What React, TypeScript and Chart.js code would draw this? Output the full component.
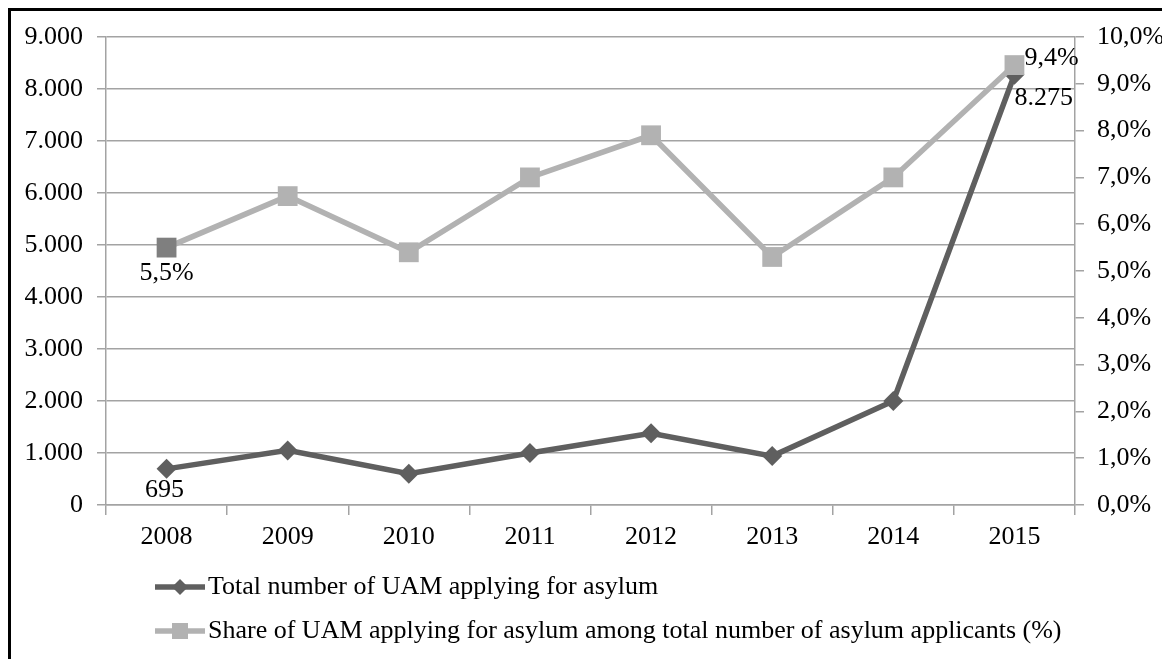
import React, { useEffect, useRef } from "react";
import { Chart, registerables } from "chart.js";

Chart.register(...registerables);

// ---- Data ----
const years = ["2008", "2009", "2010", "2011", "2012", "2013", "2014", "2015"];
const totalUAM = [695, 1050, 600, 1000, 1380, 940, 2000, 8275];
const shareUAM = [5.5, 6.6, 5.4, 7.0, 7.9, 5.3, 7.0, 9.4];
const totalLabelIdx = [0, 7];
const shareLabelIdx = [0, 7];
const seriesNames = [
  "Total number of UAM applying for asylum",
  "Share of UAM applying for asylum among total number of asylum applicants (%)",
];
const leftMax = 9000;
const leftStep = 1000;
const rightMax = 10;
const rightStep = 1;

const FONT = "'Liberation Serif', 'Times New Roman', serif";
const FS = 26;
const DARK = "#5f5f5f";
const LIGHT = "#b2b2b2";
const LIGHT_FIRST = "#7f7f7f";
const GRID = "#a3a3a3";

const fmtThousands = (v: number) =>
  String(Math.round(v)).replace(/\B(?=(\d{3})+(?!\d))/g, ".");
const fmtPct = (v: number) => v.toFixed(1).replace(".", ",") + "%";

const labelPos: Record<string, Record<number, { dx: number; dy: number; align: CanvasTextAlign }>> = {
  total: { 0: { dx: -2, dy: 21, align: "center" }, 7: { dx: 0, dy: 23, align: "left" } },
  share: { 0: { dx: 0, dy: 26, align: "center" }, 7: { dx: 10, dy: -7, align: "left" } },
};

const dataLabelPlugin = {
  id: "dataLabels",
  afterDatasetsDraw(chart: any) {
    const ctx = chart.ctx;
    ctx.save();
    ctx.font = `${FS}px ${FONT}`;
    ctx.fillStyle = "#000";
    ctx.textBaseline = "middle";
    chart.data.datasets.forEach((ds: any, di: number) => {
      const meta = chart.getDatasetMeta(di);
      const key = ds.key as string;
      const idxs = key === "total" ? totalLabelIdx : shareLabelIdx;
      idxs.forEach((i) => {
        const pt = meta.data[i];
        const p = labelPos[key][i];
        const v = ds.data[i];
        const txt = key === "total" ? fmtThousands(v) : fmtPct(v);
        ctx.textAlign = p.align;
        ctx.fillText(txt, pt.x + p.dx, pt.y + p.dy);
      });
    });
    ctx.restore();
  },
};

const legendPlugin = {
  id: "customLegend",
  afterDraw(chart: any) {
    const ctx = chart.ctx;
    ctx.save();
    const x0 = 144;
    const x1 = 194;
    const rows = [576, 620];
    const order = ["total", "share"];
    order.forEach((key, r) => {
      const ds = chart.data.datasets.find((d: any) => d.key === key);
      const y = rows[r];
      ctx.strokeStyle = ds.borderColor;
      ctx.lineWidth = ds.borderWidth;
      ctx.beginPath();
      ctx.moveTo(x0, y);
      ctx.lineTo(x1, y);
      ctx.stroke();
      ctx.fillStyle = ds.borderColor;
      const cx = (x0 + x1) / 2;
      if (key === "total") {
        const s = 8;
        ctx.beginPath();
        ctx.moveTo(cx, y - s);
        ctx.lineTo(cx + s, y);
        ctx.lineTo(cx, y + s);
        ctx.lineTo(cx - s, y);
        ctx.closePath();
        ctx.fill();
      } else {
        const s = 8;
        ctx.fillRect(cx - s, y - s, 2 * s, 2 * s);
      }
      ctx.fillStyle = "#000";
      ctx.font = `${FS}px ${FONT}`;
      ctx.textAlign = "left";
      ctx.textBaseline = "middle";
      ctx.fillText(ds.label, x1 + 3, y);
    });
    ctx.restore();
  },
};

export default function App() {
  const ref = useRef<HTMLCanvasElement | null>(null);
  useEffect(() => {
    document.documentElement.style.overflow = "hidden";
    document.body.style.overflow = "hidden";
    if (!ref.current) return;
    const chart = new Chart(ref.current, {
      type: "line",
      data: {
        labels: years,
        datasets: [
          {
            key: "total",
            label: seriesNames[0],
            data: totalUAM,
            yAxisID: "y",
            borderColor: DARK,
            backgroundColor: DARK,
            borderWidth: 5.5,
            pointStyle: "rectRot",
            pointRadius: 10,
            pointBackgroundColor: DARK,
            pointBorderColor: DARK,
            pointBorderWidth: 0,
            tension: 0,
            order: 2,
          } as any,
          {
            key: "share",
            label: seriesNames[1],
            data: shareUAM,
            yAxisID: "y1",
            borderColor: LIGHT,
            backgroundColor: LIGHT,
            borderWidth: 5.5,
            pointStyle: "rect",
            pointRadius: 14,
            pointBackgroundColor: shareUAM.map((_, i) => (i === 0 ? LIGHT_FIRST : LIGHT)),
            pointBorderColor: shareUAM.map((_, i) => (i === 0 ? LIGHT_FIRST : LIGHT)),
            pointBorderWidth: 0,
            tension: 0,
            order: 1,
          } as any,
        ],
      },
      options: {
        animation: false,
        responsive: false,
        layout: { padding: { top: 26, left: 0, right: 0, bottom: 0 } },
        plugins: { legend: { display: false }, tooltip: { enabled: false } },
        scales: {
          x: {
            type: "category",
            offset: true,
            grid: { offset: true, drawOnChartArea: false, color: GRID, lineWidth: 1.5, tickLength: 10 },
            border: { color: GRID, width: 1.5 },
            ticks: { color: "#000", font: { family: FONT, size: FS }, padding: 7, maxRotation: 0 },
            afterFit: (s: any) => {
              s.height = 154;
              s.paddingLeft = 0;
              s.paddingRight = 0;
            },
          },
          y: {
            position: "left",
            min: 0,
            max: leftMax,
            grid: { color: GRID, lineWidth: 1.5, tickLength: 9 },
            border: { color: GRID, width: 1.5 },
            ticks: {
              stepSize: leftStep,
              color: "#000",
              font: { family: FONT, size: FS },
              padding: 14,
              callback: (v: any) => fmtThousands(Number(v)),
            },
            afterFit: (s: any) => {
              s.width = 95;
              s.paddingTop = 0;
              s.paddingBottom = 0;
            },
          },
          y1: {
            position: "right",
            min: 0,
            max: rightMax,
            grid: { drawOnChartArea: false, color: GRID, lineWidth: 1.5, tickLength: 9 },
            border: { color: GRID, width: 1.5 },
            ticks: {
              stepSize: rightStep,
              color: "#000",
              font: { family: FONT, size: FS },
              padding: 13,
              callback: (v: any) => fmtPct(Number(v)),
            },
            afterFit: (s: any) => {
              s.width = 95;
              s.paddingTop = 0;
              s.paddingBottom = 0;
            },
          },
        },
      } as any,
      plugins: [dataLabelPlugin, legendPlugin],
    });
    return () => chart.destroy();
  }, []);
  return (
    <div
      style={{
        width: 1159,
        height: 648,
        borderLeft: "3px solid #000",
        borderTop: "3px solid #000",
        background: "#fff",
      }}
    >
      <canvas ref={ref} width={1159} height={648} style={{ display: "block" }} />
    </div>
  );
}
